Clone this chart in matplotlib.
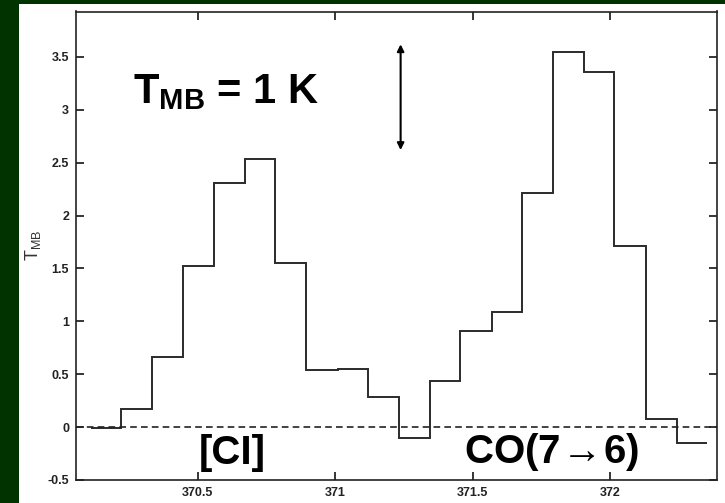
import matplotlib
matplotlib.use("Agg")
import matplotlib.pyplot as plt
from matplotlib.patches import Rectangle

plt.rcParams['font.family'] = ['Liberation Sans', 'DejaVu Sans']
plt.rcParams['mathtext.fontset'] = 'custom'
plt.rcParams['mathtext.rm'] = 'Liberation Sans'
plt.rcParams['mathtext.bf'] = 'Liberation Sans:bold'
plt.rcParams['mathtext.fallback'] = 'stixsans'

# channel edges (GHz) and brightness temperature per channel (K)
freq_edges = [370.110, 370.220, 370.333, 370.446, 370.557, 370.672, 370.781,
              370.893, 371.009, 371.118, 371.231, 371.345, 371.456, 371.570,
              371.681, 371.794, 371.905, 372.016, 372.131, 372.243, 372.352]
t_mb = [-0.01, 0.17, 0.66, 1.525, 2.31, 2.54, 1.555, 0.537, 0.553, 0.284,
        -0.10, 0.433, 0.91, 1.09, 2.215, 3.55, 3.36, 1.715, 0.08, -0.15]

xticks = [370.5, 371, 371.5, 372]
yticks = [-0.5, 0, 0.5, 1, 1.5, 2, 2.5, 3, 3.5]

# scale bar (1 K)
bar_x = 371.238
bar_y = (2.62, 3.62)

fig = plt.figure(figsize=(7.25, 5.03), dpi=100, facecolor='#013301')
# white sheet behind the plot
fig.patches.append(Rectangle((19 / 725, 0), 1, 1 - 4 / 503, transform=fig.transFigure,
                             facecolor='white', edgecolor='none', zorder=-10))

ax = fig.add_axes([76 / 725, 1 - 480 / 503, 641 / 725, 468.5 / 503])
ax.stairs(t_mb, freq_edges, baseline=None, color='#2b2b2b', lw=1.4)
ax.axhline(0, color='#222222', lw=1.2, ls=(0, (4, 2.5)))

ax.annotate('', xy=(bar_x, bar_y[1]), xytext=(bar_x, bar_y[0]),
            arrowprops=dict(arrowstyle='<|-|>', color='black', lw=1.5,
                            mutation_scale=10, shrinkA=0, shrinkB=0))

ax.text(370.263, 3.06, r'$\mathbf{T_{MB}}$ = 1 K', fontsize=30, fontweight='bold',
        ha='left', va='baseline')
ax.text(370.504, -0.35, '[CI]', fontsize=29, fontweight='bold',
        ha='left', va='baseline')
ax.text(371.468, -0.34, r'CO(7$\!{\rightarrow}\!$6)', fontsize=29, fontweight='bold',
        ha='left', va='baseline')

ax.set_xlim(370.056, 372.39)
ax.set_ylim(-0.5, 3.93)
ax.set_xticks(xticks)
ax.set_yticks(yticks)
ax.set_xticklabels(['%g' % v for v in xticks])
ax.set_yticklabels(['%g' % v for v in yticks])
ax.tick_params(direction='in', length=6, width=1.1, top=True, right=True,
               labelsize=9, labelcolor='#222222', pad=5)
for lab in ax.get_xticklabels() + ax.get_yticklabels():
    lab.set_fontweight('bold')
for sp in ax.spines.values():
    sp.set_linewidth(1.2)
    sp.set_color('#222222')

ax.set_ylabel(r'T$_{\mathrm{MB}}$', fontsize=13, color='#333333')
ax.yaxis.set_label_coords(-0.052, 0.5)

fig.savefig('out.png', dpi=100, facecolor=fig.get_facecolor())
